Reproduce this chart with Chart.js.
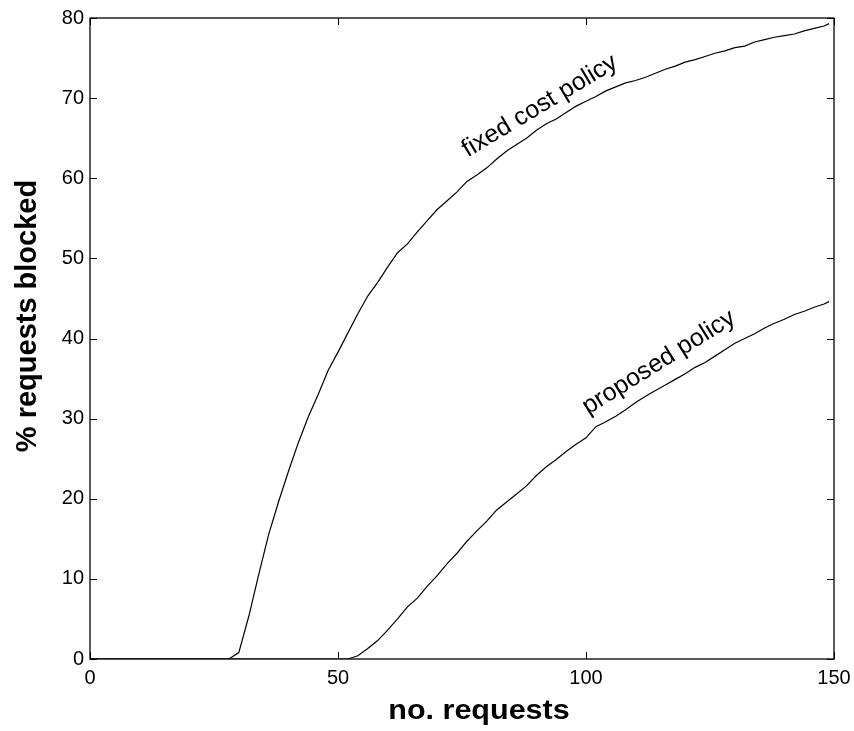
<!DOCTYPE html>
<html lang="en">
<head>
<meta charset="UTF-8">
<title>Requests blocked</title>
<style>
  html, body { margin: 0; padding: 0; background: #fff; }
  canvas { display: block; }
</style>
<script src="https://cdn.jsdelivr.net/npm/chart.js@4"></script>
</head>
<body>
<canvas id="blockChart" width="854" height="731"></canvas>
<script>
// number of requests (shared x values for both policies)
const requests = [
  0, 2, 4, 6, 8, 10, 12, 14, 16, 18, 20, 22, 24, 26, 28, 30, 32, 34, 36, 38,
  40, 42, 44, 46, 48, 50, 52, 54, 56, 58, 60, 62, 64, 66, 68, 70, 72, 74, 76, 78,
  80, 82, 84, 86, 88, 90, 92, 94, 96, 98, 100, 102, 104, 106, 108, 110, 112, 114, 116, 118,
  120, 122, 124, 126, 128, 130, 132, 134, 136, 138, 140, 142, 144, 146, 148, 149
];

// % of requests blocked
const fixedCost = [
  0, 0, 0, 0, 0, 0, 0, 0, 0, 0, 0, 0, 0, 0, 0, 0.8, 5.3, 10.5, 15.5, 19.6,
  23.4, 27.0, 30.2, 33.0, 36.0, 38.3, 40.7, 43.1, 45.3, 47.0, 48.9, 50.7, 51.8, 53.3, 54.7, 56.1, 57.2, 58.3, 59.6, 60.4,
  61.3, 62.4, 63.4, 64.2, 65.0, 66.0, 66.8, 67.4, 68.2, 69.0, 69.6, 70.2, 70.9, 71.4, 71.9, 72.2, 72.6, 73.1, 73.6, 74.0,
  74.5, 74.8, 75.2, 75.6, 75.9, 76.3, 76.5, 77.0, 77.3, 77.6, 77.8, 78.0, 78.4, 78.7, 79.0, 79.3
];
const proposed = [
  0, 0, 0, 0, 0, 0, 0, 0, 0, 0, 0, 0, 0, 0, 0, 0, 0, 0, 0, 0,
  0, 0, 0, 0, 0, 0, 0, 0.4, 1.3, 2.3, 3.6, 5.0, 6.5, 7.6, 9.1, 10.4, 11.9, 13.2, 14.7, 16.0,
  17.2, 18.6, 19.6, 20.6, 21.6, 22.9, 24.0, 24.9, 25.9, 26.8, 27.6, 29.0, 29.6, 30.3, 31.1, 32.0, 32.8, 33.5, 34.2, 34.9,
  35.6, 36.4, 37.0, 37.8, 38.6, 39.4, 40.0, 40.6, 41.3, 41.9, 42.4, 43.0, 43.4, 43.9, 44.3, 44.6
];

const xTicks = [0, 50, 100, 150];
const yTicks = [0, 10, 20, 30, 40, 50, 60, 70, 80];

// curve annotations, anchored in data units
const curveLabels = [
  { text: 'fixed cost policy', x: 90.7, y: 69.0, angle: -31 },
  { text: 'proposed policy', x: 114.7, y: 37.0, angle: -32 }
];

const FONT = "'Liberation Sans', Arial, Helvetica, sans-serif";

function toPoints(ys) {
  return requests.map((x, i) => ({ x: x, y: ys[i] }));
}

// box around the plot with inward ticks on all four sides, curve labels and axis titles
const framePlugin = {
  id: 'frame',
  afterDatasetsDraw(chart) {
    const { ctx, chartArea: a, scales } = chart;
    const len = 7;
    ctx.save();
    ctx.strokeStyle = '#000';
    ctx.lineWidth = 1.3;
    ctx.strokeRect(a.left, a.top, a.right - a.left, a.bottom - a.top);
    ctx.lineWidth = 1;
    ctx.beginPath();
    xTicks.forEach(v => {
      const px = Math.round(scales.x.getPixelForValue(v)) + 0.5;
      ctx.moveTo(px, a.bottom); ctx.lineTo(px, a.bottom - len);
      ctx.moveTo(px, a.top); ctx.lineTo(px, a.top + len);
    });
    yTicks.forEach(v => {
      const py = Math.round(scales.y.getPixelForValue(v)) + 0.5;
      ctx.moveTo(a.left, py); ctx.lineTo(a.left + len, py);
      ctx.moveTo(a.right, py); ctx.lineTo(a.right - len, py);
    });
    ctx.stroke();

    ctx.fillStyle = '#000';
    ctx.font = '25px ' + FONT;
    ctx.textAlign = 'center';
    ctx.textBaseline = 'middle';
    curveLabels.forEach(l => {
      ctx.save();
      ctx.translate(scales.x.getPixelForValue(l.x), scales.y.getPixelForValue(l.y));
      ctx.rotate(l.angle * Math.PI / 180);
      ctx.fillText(l.text, 0, 0);
      ctx.restore();
    });

    // axis titles
    ctx.textBaseline = 'alphabetic';
    ctx.font = 'bold 28px ' + FONT;
    ctx.save();
    ctx.translate(479, 719);
    ctx.scale(1.09, 1);
    ctx.fillText('no. requests', 0, 0);
    ctx.restore();

    ctx.font = 'bold 29px ' + FONT;
    ctx.save();
    ctx.translate(36, 316);
    ctx.rotate(-Math.PI / 2);
    ctx.fillText('% requests blocked', 0, 0);
    ctx.restore();
    ctx.restore();
  }
};

new Chart(document.getElementById('blockChart'), {
  type: 'scatter',
  data: {
    datasets: [
      { label: 'fixed cost policy', data: toPoints(fixedCost) },
      { label: 'proposed policy', data: toPoints(proposed) }
    ]
  },
  options: {
    responsive: false,
    devicePixelRatio: 1,
    animation: false,
    showLine: true,
    elements: {
      point: { radius: 0, hoverRadius: 0 },
      line: { borderColor: '#000', borderWidth: 1.2, tension: 0 }
    },
    layout: { padding: { top: 17, right: 20, left: 0, bottom: 0 } },
    plugins: {
      legend: { display: false },
      tooltip: { enabled: false }
    },
    scales: {
      x: {
        type: 'linear',
        min: 0,
        max: 150,
        afterBuildTicks: s => { s.ticks = xTicks.map(v => ({ value: v })); },
        afterFit: s => { s.height = 72; s.paddingLeft = 0; s.paddingRight = 0; },
        grid: { display: false, drawTicks: false },
        border: { display: false },
        ticks: { color: '#000', padding: 7, maxRotation: 0, font: { family: FONT, size: 20 } }
      },
      y: {
        min: 0,
        max: 80,
        afterBuildTicks: s => { s.ticks = yTicks.map(v => ({ value: v })); },
        afterFit: s => { s.width = 90; },
        grid: { display: false, drawTicks: false },
        border: { display: false },
        ticks: { color: '#000', padding: 6, font: { family: FONT, size: 20 } }
      }
    }
  },
  plugins: [framePlugin]
});
</script>
</body>
</html>
